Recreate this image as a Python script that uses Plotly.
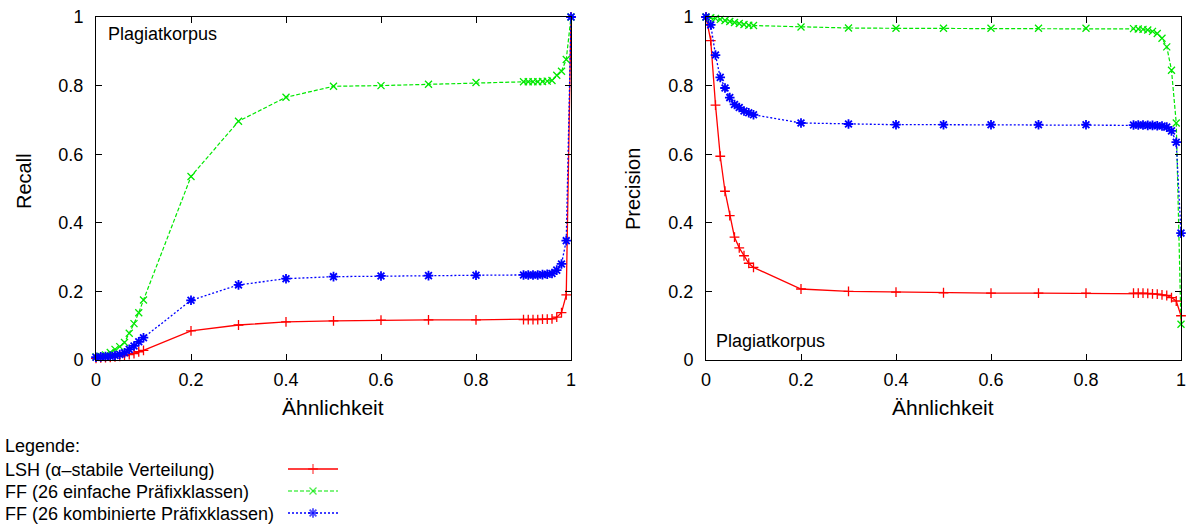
import plotly.graph_objects as go

# Similarity thresholds (shared by all curves)
similarity = [0.0, 0.01, 0.02, 0.03, 0.04, 0.05, 0.06, 0.07, 0.08, 0.09, 0.1,
              0.2, 0.3, 0.4, 0.5, 0.6, 0.7, 0.8,
              0.9, 0.91, 0.92, 0.93, 0.94, 0.95, 0.96, 0.97, 0.98, 0.99, 1.0]

# Recall
recall_lsh = [0.005, 0.006, 0.007, 0.008, 0.009, 0.011, 0.013, 0.016, 0.019, 0.024, 0.028,
              0.085, 0.102, 0.111, 0.114, 0.116, 0.117, 0.117,
              0.118, 0.118, 0.118, 0.118, 0.119, 0.119, 0.120, 0.125, 0.138, 0.190, 1.0]
recall_ff_simple = [0.009, 0.011, 0.015, 0.022, 0.031, 0.039, 0.051, 0.078, 0.106, 0.138, 0.175,
                    0.535, 0.696, 0.766, 0.798, 0.800, 0.804, 0.809,
                    0.811, 0.811, 0.811, 0.811, 0.812, 0.813, 0.815, 0.830, 0.842, 0.876, 1.0]
recall_ff_comb = [0.008, 0.009, 0.010, 0.011, 0.013, 0.016, 0.021, 0.031, 0.041, 0.053, 0.065,
                  0.174, 0.219, 0.237, 0.243, 0.245, 0.246, 0.247,
                  0.248, 0.248, 0.248, 0.248, 0.249, 0.250, 0.252, 0.262, 0.280, 0.348, 1.0]

# Precision
precision_lsh = [1.0, 0.931, 0.743, 0.594, 0.492, 0.421, 0.358, 0.327, 0.304, 0.282, 0.270,
                 0.207, 0.200, 0.198, 0.196, 0.195, 0.195, 0.195,
                 0.195, 0.195, 0.195, 0.194, 0.193, 0.192, 0.190, 0.188, 0.182, 0.172, 0.129]
precision_ff_simple = [1.0, 0.998, 0.996, 0.993, 0.990, 0.987, 0.984, 0.981, 0.978, 0.976, 0.975,
                       0.971, 0.968, 0.967, 0.967, 0.967, 0.967, 0.967,
                       0.966, 0.965, 0.964, 0.962, 0.958, 0.952, 0.938, 0.913, 0.845, 0.691, 0.104]
precision_ff_comb = [1.0, 0.977, 0.889, 0.824, 0.793, 0.765, 0.745, 0.736, 0.726, 0.721, 0.715,
                     0.691, 0.688, 0.686, 0.686, 0.686, 0.686, 0.686,
                     0.685, 0.685, 0.685, 0.684, 0.684, 0.683, 0.682, 0.679, 0.668, 0.635, 0.370]

series_names = ["LSH (\u03b1\u2013stabile Verteilung)",
                "FF (26 einfache Pr\u00e4fixklassen)",
                "FF (26 kombinierte Pr\u00e4fixklassen)"]
tick_vals = [0, 0.2, 0.4, 0.6, 0.8, 1]
tick_text = ["0", "0.2", "0.4", "0.6", "0.8", "1"]

W, H = 1186, 525
FONT = "Liberation Sans, Arial, Helvetica, sans-serif"

styles = [
    dict(color="#ff0000", dash="solid", symbol="cross-thin-open", size=7, width=1.3, mlw=1.3),
    dict(color="#00e800", dash="4px,2px", symbol="x-thin-open", size=7, width=1.2, mlw=1.3),
    dict(color="#0000ff", dash="2px,2px", symbol="asterisk-open", size=8, width=1.3, mlw=1.8),
]


def px_x(p):
    return p / W


def px_y(p):
    return 1 - p / H


fig = go.Figure(layout=dict(template="none"))

panels = [
    ("x", "y", [recall_lsh, recall_ff_simple, recall_ff_comb]),
    ("x2", "y2", [precision_lsh, precision_ff_simple, precision_ff_comb]),
]
for xa, ya, curves in panels:
    for vals, st in zip(curves, styles):
        fig.add_trace(go.Scatter(
            x=similarity, y=vals, xaxis=xa, yaxis=ya, mode="lines+markers",
            line=dict(color=st["color"], dash=st["dash"], width=st["width"]),
            marker=dict(symbol=st["symbol"], size=st["size"],
                        line=dict(color=st["color"], width=st["mlw"])),
            cliponaxis=False, showlegend=False, hoverinfo="skip",
        ))

# Legend samples drawn on a pixel-space overlay axis
row_y = [469, 491, 513]
for ry, st in zip(row_y, styles):
    fig.add_trace(go.Scatter(
        x=[288, 313, 338], y=[ry, ry, ry], xaxis="x3", yaxis="y3",
        mode="lines+markers",
        line=dict(color=st["color"], dash=st["dash"], width=st["width"]),
        marker=dict(symbol=st["symbol"], size=[0, st["size"], 0],
                    line=dict(color=st["color"], width=st["mlw"])),
        cliponaxis=False, showlegend=False, hoverinfo="skip",
    ))

axis_common = dict(
    range=[0, 1], showgrid=False, zeroline=False, showline=True, automargin=False,
    linecolor="black", linewidth=1, mirror="ticks", ticks="inside",
    ticklen=6, tickcolor="black", tickwidth=1, tickvals=tick_vals, ticktext=tick_text,
    tickfont=dict(family=FONT, size=18, color="black"), fixedrange=True,
    ticklabeloverflow="allow",
)

left_dom = [px_x(96), px_x(571)]
right_dom = [px_x(706), px_x(1181)]
y_dom = [px_y(360), px_y(17)]

fig.update_layout(
    width=W, height=H, margin=dict(l=0, r=0, t=0, b=0, autoexpand=False),
    paper_bgcolor="white", plot_bgcolor="rgba(0,0,0,0)",
    font=dict(family=FONT, color="black"),
    xaxis=dict(domain=left_dom, anchor="y", ticklabelstandoff=3, **axis_common),
    yaxis=dict(domain=y_dom, anchor="x", ticklabelstandoff=8, **axis_common),
    xaxis2=dict(domain=right_dom, anchor="y2", ticklabelstandoff=3, **axis_common),
    yaxis2=dict(domain=y_dom, anchor="x2", ticklabelstandoff=8, **axis_common),
    xaxis3=dict(domain=[0, 1], anchor="y3", range=[0, W], visible=False,
                fixedrange=True, automargin=False),
    yaxis3=dict(domain=[0, 1], anchor="x3", range=[H, 0], visible=False,
                fixedrange=True, automargin=False),
)

ann = []


def text(x, y, s, size=18, xanchor="left", angle=0):
    ann.append(dict(x=px_x(x), y=px_y(y), xref="paper", yref="paper", text=s,
                    showarrow=False, xanchor=xanchor, yanchor="middle",
                    textangle=angle, font=dict(family=FONT, size=size, color="black")))


text(106, 34, "Plagiatkorpus")
text(714, 341, "Plagiatkorpus")
text(333, 407, "\u00c4hnlichkeit", size=21, xanchor="center")
text(943, 407, "\u00c4hnlichkeit", size=21, xanchor="center")
text(24, 181, "Recall", size=20, xanchor="center", angle=-90)
text(633, 189, "Precision", size=20, xanchor="center", angle=-90)
text(3, 446, "Legende:")
for ry, name in zip(row_y, series_names):
    text(3, ry + 1, name)

fig.update_layout(annotations=ann)
fig.write_html("out.html", config={"displayModeBar": False})
